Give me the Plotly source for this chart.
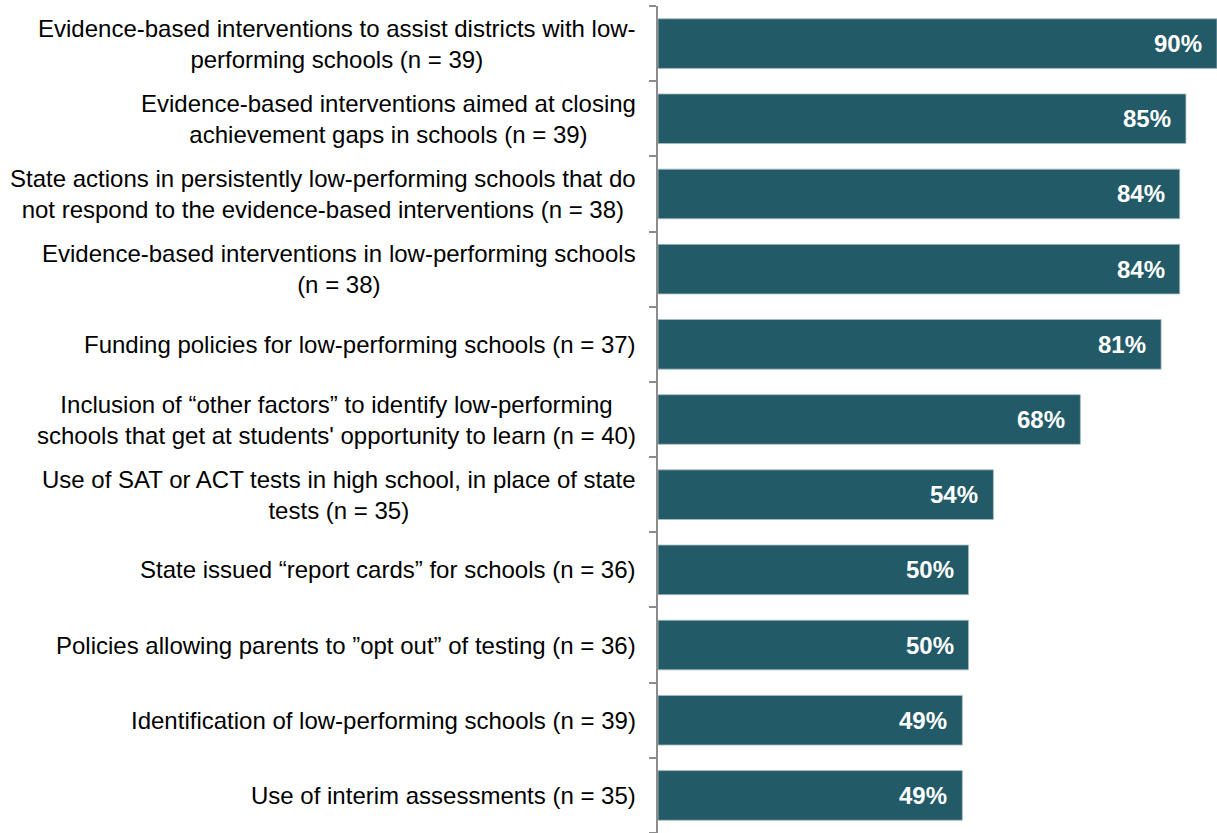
import plotly.graph_objects as go

categories = [
    "Evidence-based interventions to assist districts with low-<br>performing schools (n = 39)",
    "Evidence-based interventions aimed at closing<br>achievement gaps in schools (n = 39)",
    "State actions in persistently low-performing schools that do<br>not respond to the evidence-based interventions (n = 38)",
    "Evidence-based interventions in low-performing schools<br>(n = 38)",
    "Funding policies for low-performing schools (n = 37)",
    "Inclusion of “other factors” to identify low-performing<br>schools that get at students' opportunity to learn (n = 40)",
    "Use of SAT or ACT tests in high school, in place of state<br>tests (n = 35)",
    "State issued “report cards” for schools (n = 36)",
    "Policies allowing parents to ”opt out” of testing (n = 36)",
    "Identification of low-performing schools (n = 39)",
    "Use of interim assessments (n = 35)",
]
values = [90, 85, 84, 84, 81, 68, 54, 50, 50, 49, 49]
value_labels = [f"{v}%" for v in values]

BAR = "#235a67"
FONT = "Liberation Sans, Arial, sans-serif"

ids = list(range(len(categories)))

fig = go.Figure()
fig.add_trace(go.Bar(
    x=values, y=ids, orientation="h",
    marker=dict(color=BAR, line=dict(color="#a9bcc1", width=0.8)),
    width=0.66, hoverinfo="skip",
))

annotations = []
for i, (c, v, t) in enumerate(zip(categories, values, value_labels)):
    annotations.append(dict(
        x=v, y=i, xref="x", yref="y", text=t, showarrow=False,
        xanchor="right", xshift=-13,
        font=dict(family=FONT, size=24, color="white", weight="bold"),
    ))
    annotations.append(dict(
        x=0, y=i, xref="paper", yref="y", text=c, showarrow=False,
        xanchor="right", xshift=-20, align="center",
        font=dict(family=FONT, size=24, color="black"),
    ))

fig.update_layout(
    width=1217, height=833,
    margin=dict(l=658, r=0, t=6, b=0),
    paper_bgcolor="white", plot_bgcolor="white",
    showlegend=False,
    annotations=annotations,
    xaxis=dict(range=[0, 90], visible=False, fixedrange=True),
    yaxis=dict(
        range=[len(categories) - 0.5, -0.5],
        tickmode="array", tickvals=[i - 0.5 for i in range(len(categories) + 1)],
        showticklabels=False, ticks="outside", ticklen=7, tickcolor="#8c8c8c", tickwidth=1.5,
        showline=True, linecolor="#8c8c8c", linewidth=1.5,
        showgrid=False, zeroline=False, fixedrange=True,
    ),
)

fig.write_html("out.html")
